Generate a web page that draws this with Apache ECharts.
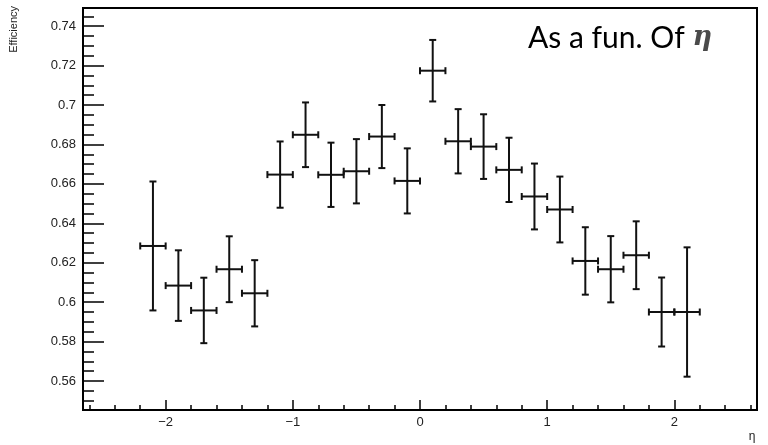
<!DOCTYPE html>
<html>
<head>
<meta charset="utf-8">
<script src="https://cdn.jsdelivr.net/npm/echarts@6/dist/echarts.min.js"></script>
<style>html,body{margin:0;padding:0;background:#fff}#c{width:768px;height:445px}</style>
</head>
<body>
<div id="c"></div>
<script>
// ---- data ----
const etaCenters = [-2.1,-1.9,-1.7,-1.5,-1.3,-1.1,-0.9,-0.7,-0.5,-0.3,-0.1,0.1,0.3,0.5,0.7,0.9,1.1,1.3,1.5,1.7,1.9,2.1];
const efficiency = [0.6285,0.6084,0.5958,0.6167,0.6045,0.6647,0.6849,0.6646,0.6664,0.6840,0.6615,0.7174,0.6816,0.6789,0.6671,0.6536,0.6470,0.6209,0.6167,0.6238,0.5950,0.5950];
const effError   = [0.0327,0.0179,0.0166,0.0167,0.0168,0.0168,0.0164,0.0163,0.0163,0.0160,0.0165,0.0156,0.0163,0.0164,0.0163,0.0167,0.0167,0.0171,0.0168,0.0172,0.0175,0.0328];
const etaError   = [0.1,0.1,0.1,0.1,0.1,0.1,0.1,0.1,0.1,0.1,0.1,0.1,0.1,0.1,0.1,0.1,0.1,0.1,0.1,0.1,0.1,0.1];
const xMajorTicks = [-2,-1,0,1,2];
const xMinorTicks = [-2.6,-2.4,-2.2,-2.0,-1.8,-1.6,-1.4,-1.2,-1.0,-0.8,-0.6,-0.4,-0.2,0,0.2,0.4,0.6,0.8,1.0,1.2,1.4,1.6,1.8,2.0,2.2,2.4,2.6];
const yMajorTicks = [0.56,0.58,0.60,0.62,0.64,0.66,0.68,0.70,0.72,0.74];
const yMinorTicks = [0.545,0.55,0.555,0.56,0.565,0.57,0.575,0.58,0.585,0.59,0.595,0.60,0.605,0.61,0.615,0.62,0.625,0.63,0.635,0.64,0.645,0.65,0.655,0.66,0.665,0.67,0.675,0.68,0.685,0.69,0.695,0.70,0.705,0.71,0.715,0.72,0.725,0.73,0.735,0.74,0.745];
const xRange = [-2.65, 2.65];
const yRange = [0.5453, 0.7492];

const pts = etaCenters.map((x,i)=>[x, efficiency[i], etaError[i], effError[i]]);
const fmtNum = v => String(+v.toFixed(3)).replace('-', '\u2212');
const labelFont = {fontFamily:'Liberation Sans', fontSize:13, color:'#222'};

const chart = echarts.init(document.getElementById('c'), null, {renderer:'canvas'});
chart.setOption({
  animation:false,
  backgroundColor:'#fff',
  grid:{left:83, right:11, top:8, bottom:35, show:true, borderColor:'#000', borderWidth:2, backgroundColor:'transparent'},
  xAxis:[
    {type:'value', min:xRange[0], max:xRange[1], position:'bottom',
     axisLine:{show:true, onZero:false, lineStyle:{color:'#000', width:2}},
     axisTick:{show:true, inside:true, length:10, customValues:xMajorTicks, lineStyle:{color:'#000', width:1.5}},
     axisLabel:{show:true, customValues:xMajorTicks, margin:6, formatter:fmtNum, ...labelFont},
     splitLine:{show:false}},
    {type:'value', min:xRange[0], max:xRange[1], position:'bottom',
     axisLine:{show:false, onZero:false},
     axisTick:{show:true, inside:true, length:5, customValues:xMinorTicks, lineStyle:{color:'#000', width:1.5}},
     axisLabel:{show:false},
     splitLine:{show:false}}
  ],
  yAxis:[
    {type:'value', min:yRange[0], max:yRange[1], position:'left',
     axisLine:{show:true, onZero:false, lineStyle:{color:'#000', width:2}},
     axisTick:{show:true, inside:true, length:21, customValues:yMajorTicks, lineStyle:{color:'#000', width:1.5}},
     axisLabel:{show:true, customValues:yMajorTicks, margin:7, formatter:fmtNum, ...labelFont},
     splitLine:{show:false}},
    {type:'value', min:yRange[0], max:yRange[1], position:'left',
     axisLine:{show:false, onZero:false},
     axisTick:{show:true, inside:true, length:11, customValues:yMinorTicks, lineStyle:{color:'#000', width:1.5}},
     axisLabel:{show:false},
     splitLine:{show:false}}
  ],
  series:[{
    type:'custom',
    xAxisIndex:0, yAxisIndex:0,
    data:pts,
    encode:{x:0, y:1},
    clip:false,
    renderItem:function(params, api){
      const x=api.value(0), y=api.value(1), ex=api.value(2), ey=api.value(3);
      const L=api.coord([x-ex,y]), R=api.coord([x+ex,y]);
      const T=api.coord([x,y+ey]), B=api.coord([x,y-ey]);
      const c=3.5;
      const st={stroke:'#111', lineWidth:2};
      const ln=(x1,y1,x2,y2)=>({type:'line', shape:{x1,y1,x2,y2}, style:st});
      return {type:'group', children:[
        ln(L[0],L[1],R[0],R[1]),
        ln(T[0],T[1],B[0],B[1]),
        ln(L[0],L[1]-c,L[0],L[1]+c),
        ln(R[0],R[1]-c,R[0],R[1]+c),
        ln(T[0]-c,T[1],T[0]+c,T[1]),
        ln(B[0]-c,B[1],B[0]+c,B[1])
      ]};
    }
  }],
  graphic:[
    {type:'text', x:14, y:6, rotation:Math.PI/2,
     style:{text:'Efficiency', align:'right', verticalAlign:'middle', fontFamily:'Liberation Sans', fontSize:11, fill:'#222'}},
    {type:'text', x:752, y:437,
     style:{text:'\u03b7', align:'center', verticalAlign:'middle', fontFamily:'Liberation Sans', fontSize:12, fill:'#222'}},
    {type:'text', x:528, y:38,
     style:{text:'{a|As a fun. Of }{b|\u03b7}', verticalAlign:'middle',
       rich:{a:{fontFamily:'Lato', fontSize:30, fill:'#000', color:'#000'},
             b:{fontFamily:'DejaVu Serif', fontStyle:'italic', fontWeight:'bold', fontSize:27, color:'#4a4a4a', fill:'#4a4a4a'}}}}
  ]
});
</script>
</body>
</html>
